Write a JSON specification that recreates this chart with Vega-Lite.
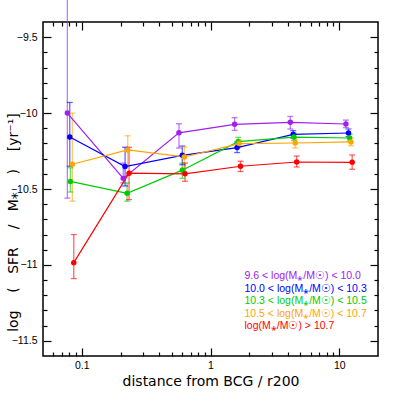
{
  "$schema": "https://vega.github.io/schema/vega-lite/v6.json",
  "width": 335,
  "height": 334,
  "autosize": "none",
  "padding": {"left": 43, "top": 22, "right": 21, "bottom": 43},
  "background": "white",
  "config": {
    "view": {"stroke": "black", "strokeWidth": 1.5},
    "axis": {"domain": false, "grid": false, "tickColor": "black", "tickWidth": 1.2, "labelColor": "black", "labelFont": "Liberation Sans", "labelFontSize": 10.5, "titleFont": "DejaVu Sans", "titleFontWeight": "normal", "titleFontSize": 14, "titleColor": "black"}
  },
  "data": {
    "values": [
      {"s": "9.6 < log(M⁎/M☉) < 10.0", "d": 0.0773, "v": -10.0, "lo": -10.56, "hi": -9.25},
      {"s": "9.6 < log(M⁎/M☉) < 10.0", "d": 0.21, "v": -10.43, "lo": -10.46, "hi": -10.33},
      {"s": "9.6 < log(M⁎/M☉) < 10.0", "d": 0.569, "v": -10.13, "lo": -10.23, "hi": -10.07},
      {"s": "9.6 < log(M⁎/M☉) < 10.0", "d": 1.54, "v": -10.074, "lo": -10.114, "hi": -10.03},
      {"s": "9.6 < log(M⁎/M☉) < 10.0", "d": 4.17, "v": -10.061, "lo": -10.105, "hi": -10.022},
      {"s": "9.6 < log(M⁎/M☉) < 10.0", "d": 11.27, "v": -10.072, "lo": -10.096, "hi": -10.046},
      {"s": "10.0 < log(M⁎/M☉) < 10.3", "d": 0.0807, "v": -10.158, "lo": -10.35, "hi": -9.93},
      {"s": "10.0 < log(M⁎/M☉) < 10.3", "d": 0.217, "v": -10.352, "lo": -10.48, "hi": -10.225},
      {"s": "10.0 < log(M⁎/M☉) < 10.3", "d": 0.604, "v": -10.278, "lo": -10.34, "hi": -10.217},
      {"s": "10.0 < log(M⁎/M☉) < 10.3", "d": 1.61, "v": -10.227, "lo": -10.26, "hi": -10.19},
      {"s": "10.0 < log(M⁎/M☉) < 10.3", "d": 4.39, "v": -10.14, "lo": -10.165, "hi": -10.115},
      {"s": "10.0 < log(M⁎/M☉) < 10.3", "d": 11.8, "v": -10.131, "lo": -10.155, "hi": -10.105},
      {"s": "10.3 < log(M⁎/M☉) < 10.5", "d": 0.0816, "v": -10.45, "lo": -10.52, "hi": -10.36},
      {"s": "10.3 < log(M⁎/M☉) < 10.5", "d": 0.225, "v": -10.528, "lo": -10.58, "hi": -10.46},
      {"s": "10.3 < log(M⁎/M☉) < 10.5", "d": 0.604, "v": -10.376, "lo": -10.43, "hi": -10.33},
      {"s": "10.3 < log(M⁎/M☉) < 10.5", "d": 1.64, "v": -10.188, "lo": -10.22, "hi": -10.16},
      {"s": "10.3 < log(M⁎/M☉) < 10.5", "d": 4.45, "v": -10.158, "lo": -10.18, "hi": -10.135},
      {"s": "10.3 < log(M⁎/M☉) < 10.5", "d": 12.05, "v": -10.164, "lo": -10.185, "hi": -10.14},
      {"s": "10.5 < log(M⁎/M☉) < 10.7", "d": 0.0845, "v": -10.337, "lo": -10.58, "hi": -10.0},
      {"s": "10.5 < log(M⁎/M☉) < 10.7", "d": 0.2275, "v": -10.243, "lo": -10.34, "hi": -10.149},
      {"s": "10.5 < log(M⁎/M☉) < 10.7", "d": 0.626, "v": -10.289, "lo": -10.36, "hi": -10.223},
      {"s": "10.5 < log(M⁎/M☉) < 10.7", "d": 1.67, "v": -10.201, "lo": -10.225, "hi": -10.175},
      {"s": "10.5 < log(M⁎/M☉) < 10.7", "d": 4.55, "v": -10.197, "lo": -10.23, "hi": -10.175},
      {"s": "10.5 < log(M⁎/M☉) < 10.7", "d": 12.33, "v": -10.19, "lo": -10.215, "hi": -10.165},
      {"s": "log(M⁎/M☉) > 10.7", "d": 0.0867, "v": -10.985, "lo": -11.09, "hi": -10.8},
      {"s": "log(M⁎/M☉) > 10.7", "d": 0.233, "v": -10.396, "lo": -10.57, "hi": -10.225},
      {"s": "log(M⁎/M☉) > 10.7", "d": 0.634, "v": -10.4, "lo": -10.449, "hi": -10.329},
      {"s": "log(M⁎/M☉) > 10.7", "d": 1.71, "v": -10.35, "lo": -10.385, "hi": -10.317},
      {"s": "log(M⁎/M☉) > 10.7", "d": 4.67, "v": -10.322, "lo": -10.355, "hi": -10.283},
      {"s": "log(M⁎/M☉) > 10.7", "d": 12.6, "v": -10.324, "lo": -10.37, "hi": -10.276}
    ]
  },
  "resolve": {"axis": {"x": "independent", "y": "independent"}},
  "layer": [
    {
      "mark": {"type": "rule", "opacity": 0.6, "strokeWidth": 1.3, "clip": false},
      "encoding": {
        "x": {"field": "d", "type": "quantitative", "scale": {"type": "log", "domain": [0.05, 20], "nice": false},
          "axis": {"orient": "bottom", "title": "distance from BCG / r200",
            "values": [0.1, 1, 10],
            "labelExpr": "datum.value == 0.1 ? '0.1' : datum.value == 1 ? '1' : datum.value == 10 ? '10' : ''",
            "tickSize": -8,
            "labelPadding": 12, "labelFlush": false, "labelOverlap": false,
            "titleY": 25, "titleBaseline": "middle"}},
        "y": {"field": "lo", "type": "quantitative", "scale": {"domain": [-11.6, -9.4], "nice": false, "zero": false},
          "axis": {"orient": "left", "title": "log\u00a0\u00a0\u00a0\u00a0(\u00a0\u00a0\u00a0SFR\u00a0\u00a0\u00a0\u00a0/\u00a0\u00a0\u00a0M⁎\u00a0\u00a0\u00a0\u00a0)\u00a0\u00a0\u00a0\u00a0[yr⁻¹]",
            "values": [-11.5, -11, -10.5, -10, -9.5],
            "labelExpr": "datum.value == -11.5 ? '−11.5' : datum.value == -11 ? '−11' : datum.value == -10.5 ? '−10.5' : datum.value == -10 ? '−10' : datum.value == -9.5 ? '−9.5' : ''",
            "tickSize": -8,
            "labelPadding": 14, "labelFlush": false, "labelOverlap": false,
            "titleX": -30, "titleY": 200, "titleAngle": -90, "titleAlign": "center", "titleBaseline": "middle"}},
        "y2": {"field": "hi"},
        "color": {"field": "s", "type": "nominal",
          "scale": {"domain": ["9.6 < log(M⁎/M☉) < 10.0", "10.0 < log(M⁎/M☉) < 10.3", "10.3 < log(M⁎/M☉) < 10.5", "10.5 < log(M⁎/M☉) < 10.7", "log(M⁎/M☉) > 10.7"],
            "range": ["#a020f0", "#0000ff", "#00cc00", "#ffa500", "#ff0000"]},
          "legend": {"orient": "none", "legendX": 191, "legendY": 249, "title": null, "padding": 0,
            "symbolSize": 0, "symbolOpacity": 0, "symbolStrokeWidth": 0, "labelOffset": 0,
            "labelFont": "Liberation Sans", "labelFontSize": 10.5, "labelLimit": 300, "rowPadding": 1.5,
            "encode": {"labels": {"update": {"fill": {"scale": "color", "field": "value"}}}}}}
      }
    },
    {
      "mark": {"type": "tick", "orient": "horizontal", "size": 6, "thickness": 1.3, "opacity": 0.6},
      "encoding": {
        "x": {"field": "d", "type": "quantitative",
          "axis": {"orient": "bottom", "title": null, "labels": false, "tickSize": -4,
            "values": [0.06, 0.07, 0.08, 0.09, 0.2, 0.3, 0.4, 0.5, 0.6, 0.7, 0.8, 0.9, 2, 3, 4, 5, 6, 7, 8, 9]}},
        "y": {"field": "lo", "type": "quantitative",
          "axis": {"orient": "left", "title": null, "labels": false, "tickSize": -4,
            "values": [-11.4, -11.3, -11.2, -11.1, -10.9, -10.8, -10.7, -10.6, -10.4, -10.3, -10.2, -10.1, -9.9, -9.8, -9.7, -9.6]}},
        "color": {"field": "s", "type": "nominal"}
      }
    },
    {
      "mark": {"type": "tick", "orient": "horizontal", "size": 6, "thickness": 1.3, "opacity": 0.6},
      "encoding": {
        "x": {"field": "d", "type": "quantitative",
          "axis": {"orient": "top", "title": null, "labels": false, "tickSize": -8, "values": [0.1, 1, 10]}},
        "y": {"field": "hi", "type": "quantitative",
          "axis": {"orient": "right", "title": null, "labels": false, "tickSize": -8, "values": [-11.5, -11, -10.5, -10, -9.5]}},
        "color": {"field": "s", "type": "nominal"}
      }
    },
    {
      "mark": {"type": "line", "strokeWidth": 1.2},
      "encoding": {
        "x": {"field": "d", "type": "quantitative",
          "axis": {"orient": "top", "title": null, "labels": false, "tickSize": -4,
            "values": [0.06, 0.07, 0.08, 0.09, 0.2, 0.3, 0.4, 0.5, 0.6, 0.7, 0.8, 0.9, 2, 3, 4, 5, 6, 7, 8, 9]}},
        "y": {"field": "v", "type": "quantitative",
          "axis": {"orient": "right", "title": null, "labels": false, "tickSize": -4,
            "values": [-11.4, -11.3, -11.2, -11.1, -10.9, -10.8, -10.7, -10.6, -10.4, -10.3, -10.2, -10.1, -9.9, -9.8, -9.7, -9.6]}},
        "color": {"field": "s", "type": "nominal"}
      }
    },
    {
      "mark": {"type": "point", "filled": true, "size": 30, "opacity": 1},
      "encoding": {
        "x": {"field": "d", "type": "quantitative", "axis": null},
        "y": {"field": "v", "type": "quantitative", "axis": null},
        "color": {"field": "s", "type": "nominal"}
      }
    }
  ]
}
